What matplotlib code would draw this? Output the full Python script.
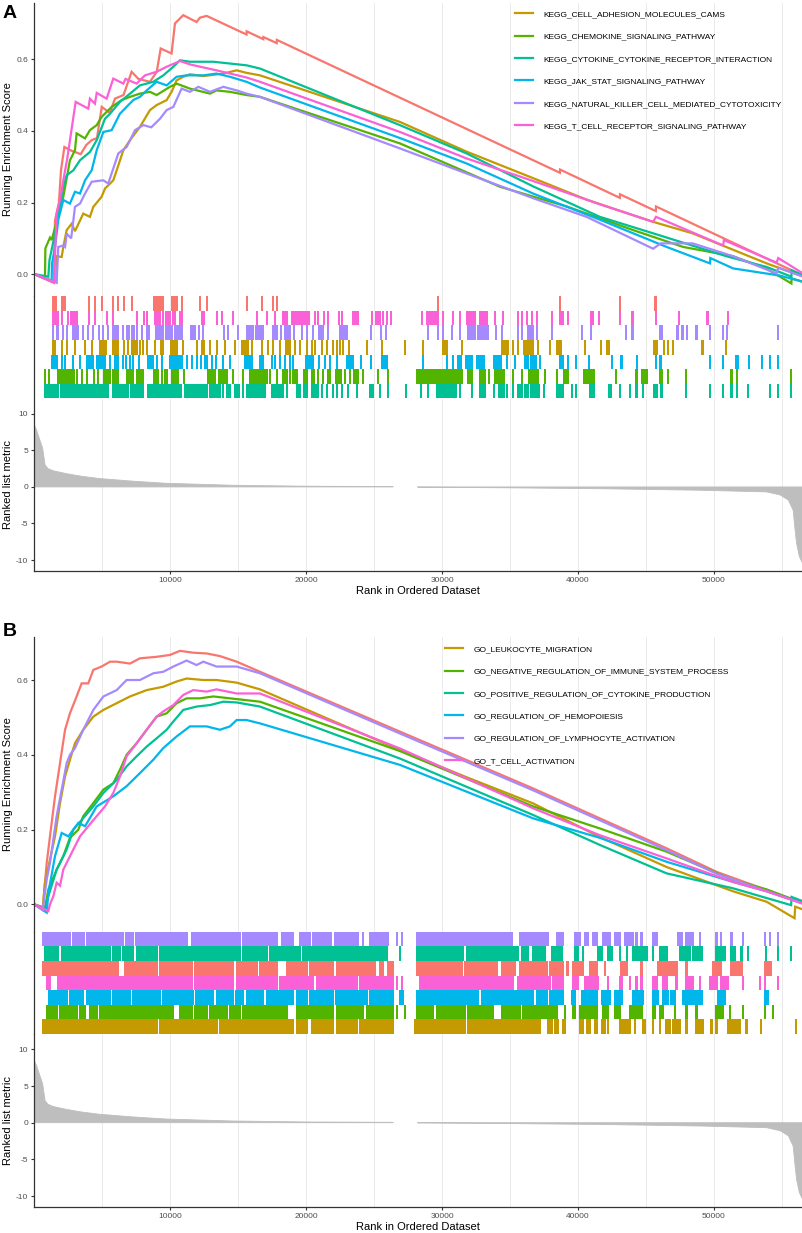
import numpy as np
import matplotlib
matplotlib.use("Agg")
import matplotlib.pyplot as plt

plt.rcParams["font.family"] = ["Liberation Sans", "DejaVu Sans"]
plt.rcParams["axes.unicode_minus"] = False

# ---------------- data ----------------
# ranked list metric, shared by both panels (nan = gap with no genes drawn)
metric_rank = [0, 150, 400, 600, 780, 1000, 1400, 2400, 3500, 4800, 7300, 9700,
               14600, 20000, 26400, 27300, 28200, 35000, 42000, 49000, 53900,
               54900, 55500, 55850, 55970, 56100, 56300, 56500]
metric_value = [8.4, 7.8, 6.4, 5.3, 3.0, 2.5, 2.2, 1.8, 1.45, 1.15, 0.78, 0.5,
                0.23, 0.1, 0.05, np.nan, -0.03, -0.12, -0.25, -0.45, -0.68,
                -1.1, -1.8, -3.2, -5.5, -7.7, -9.5, -10.3]

# panel A: running enrichment score, (rank, ES)
es_a_extra = [(0, 0.0), (1435, -0.024), (1509, 0.15), (1800, 0.20), (1950, 0.29), (2200, 0.355),
              (2700, 0.345), (3400, 0.335), (3800, 0.36), (4200, 0.374), (4600, 0.38), (4950, 0.467),
              (5550, 0.45), (5920, 0.49), (6550, 0.50), (7150, 0.565), (7650, 0.545), (8500, 0.537),
              (9000, 0.565), (9290, 0.63), (10090, 0.616), (10340, 0.70), (10950, 0.723),
              (11930, 0.704), (12180, 0.716), (12670, 0.721), (15610, 0.669), (15620, 0.678),
              (16840, 0.656), (16850, 0.662), (17830, 0.645), (17840, 0.654), (38680, 0.283),
              (38690, 0.292), (43090, 0.213), (43100, 0.223), (45740, 0.176), (45750, 0.189),
              (56450, -0.002)]
es_a_cams = [(0, 0.0), (1600, -0.022), (1640, 0.05), (2000, 0.048), (2120, 0.076), (2370, 0.123),
             (2740, 0.141), (2980, 0.12), (3590, 0.169), (4080, 0.16), (4330, 0.188), (4940, 0.216),
             (5190, 0.239), (5800, 0.262), (6050, 0.29), (6540, 0.346), (7030, 0.374), (7760, 0.411),
             (8500, 0.458), (8990, 0.472), (9730, 0.486), (10090, 0.509), (10460, 0.541),
             (10950, 0.551), (11440, 0.558), (12430, 0.553), (13900, 0.56), (14880, 0.569),
             (15610, 0.562), (16600, 0.555), (26900, 0.425), (31810, 0.342), (36710, 0.268),
             (40640, 0.208), (45540, 0.146), (48440, 0.114), (53900, 0.03), (56450, -0.005)]
es_a_chemokine = [(0, 0.0), (770, -0.012), (800, 0.072), (1140, 0.102), (1260, 0.095), (1510, 0.13),
                  (2120, 0.216), (2610, 0.318), (2980, 0.346), (3100, 0.393), (3720, 0.379),
                  (4080, 0.402), (4580, 0.416), (4940, 0.439), (5680, 0.467), (6420, 0.486),
                  (7030, 0.495), (7760, 0.504), (8500, 0.509), (8990, 0.50), (9970, 0.523),
                  (10460, 0.532), (11440, 0.518), (12920, 0.504), (13400, 0.513), (14390, 0.509),
                  (15610, 0.50), (16600, 0.495), (26900, 0.365), (34260, 0.244), (39170, 0.189),
                  (44070, 0.123), (47750, 0.076), (51430, 0.05), (53900, 0.015), (55720, -0.026),
                  (55730, -0.012), (56450, -0.02)]
es_a_cytokine = [(0, 0.0), (1020, -0.007), (1100, 0.039), (1510, 0.113), (2120, 0.244), (2370, 0.276),
                 (2860, 0.29), (3350, 0.318), (4080, 0.341), (4580, 0.374), (5190, 0.434),
                 (5560, 0.448), (6290, 0.481), (7030, 0.504), (7760, 0.527), (8750, 0.537),
                 (9480, 0.555), (10220, 0.579), (10710, 0.597), (11440, 0.593), (13160, 0.593),
                 (14390, 0.588), (15610, 0.583), (16600, 0.574), (26900, 0.416), (31810, 0.337),
                 (36710, 0.245), (41620, 0.16), (45540, 0.114), (50940, 0.05), (53900, 0.02),
                 (55720, -0.007), (55730, 0.011), (56450, -0.001)]
es_a_jak = [(0, 0.0), (1260, -0.02), (1290, 0.03), (1510, 0.076), (1750, 0.151), (2120, 0.207),
            (2610, 0.197), (2980, 0.23), (3350, 0.225), (3720, 0.262), (4210, 0.29), (4580, 0.346),
            (5070, 0.397), (5680, 0.402), (6290, 0.448), (6780, 0.467), (7270, 0.486), (7760, 0.495),
            (8260, 0.513), (8990, 0.537), (9730, 0.527), (10460, 0.551), (11200, 0.555),
            (12430, 0.555), (13400, 0.56), (14390, 0.551), (15610, 0.537), (16600, 0.521),
            (26900, 0.38), (31810, 0.309), (36710, 0.225), (41620, 0.152), (46530, 0.076),
            (49730, 0.03), (49750, 0.045), (51430, 0.016), (54870, -0.004), (56450, -0.02)]
es_a_nk = [(0, 0.0), (1630, -0.024), (1750, 0.076), (2120, 0.08), (2250, 0.076), (2370, 0.113),
           (2700, 0.1), (2980, 0.188), (3350, 0.197), (3720, 0.225), (4210, 0.258), (5070, 0.262),
           (5430, 0.253), (6170, 0.337), (6780, 0.355), (7400, 0.402), (8010, 0.416), (8600, 0.41),
           (9240, 0.434), (9730, 0.458), (10220, 0.467), (10830, 0.518), (11440, 0.509),
           (12060, 0.523), (12920, 0.509), (13900, 0.523), (14880, 0.513), (15610, 0.504),
           (16600, 0.495), (26900, 0.351), (31810, 0.281), (36710, 0.212), (40640, 0.16),
           (45540, 0.071), (46100, 0.086), (48440, 0.086), (51430, 0.05), (54630, 0.002),
           (54750, 0.018), (56450, -0.005)]
es_a_tcr = [(0, 0.0), (1435, -0.024), (1630, 0.169), (1880, 0.207), (2120, 0.262), (2400, 0.32),
            (3030, 0.481), (3960, 0.462), (4080, 0.49), (4450, 0.476), (4580, 0.506), (5310, 0.49),
            (5800, 0.546), (6540, 0.532), (6700, 0.545), (7520, 0.532), (8130, 0.555), (8990, 0.565),
            (9730, 0.579), (10710, 0.595), (11500, 0.585), (13400, 0.569), (15610, 0.549),
            (16600, 0.537), (26900, 0.397), (31810, 0.323), (36710, 0.26), (41620, 0.195),
            (45540, 0.146), (45750, 0.16), (50700, 0.08), (50750, 0.095), (54630, 0.032),
            (54750, 0.045), (56450, 0.005)]

# panel A: gene hits as (first rank, last rank) runs
hits_a_extra = [(1386, 1582), (1999, 2244), (4035, 4035), (4452, 4452), (4943, 4943), (5801, 5801),
                (6169, 6169), (6586, 6586), (7150, 7150), (8794, 8990), (9113, 9432), (10094, 10462),
                (10830, 10830), (12179, 12179), (12670, 12670), (15613, 15613), (16717, 16717),
                (17576, 17576), (17821, 17821), (29673, 29673), (38675, 38675), (43090, 43090),
                (45716, 45716)]
hits_a_tcr = [(1386, 1754), (1999, 1999), (2490, 2490), (2661, 2858), (2980, 3152), (4035, 4035),
              (4452, 4452), (5311, 5311), (5801, 5801), (7518, 7518), (8058, 8058), (8303, 8303),
              (8867, 9235), (9481, 9481), (9677, 9849), (9972, 9972), (10217, 10339), (10707, 10707),
              (10830, 10830), (12302, 12302), (12474, 12474), (13406, 13406), (13773, 13773),
              (14632, 14632), (16398, 16398), (17085, 17085), (17698, 17698), (18311, 18557),
              (18925, 19293), (19415, 19661), (19832, 20200), (20642, 20642), (20887, 20887),
              (21304, 21304), (21623, 21623), (22433, 22433), (22604, 22604), (23463, 23831),
              (24812, 24812), (25131, 25425), (25671, 25671), (25916, 25916), (26210, 26210),
              (28495, 28495), (28912, 29231), (29354, 29722), (30090, 30090), (30777, 30777),
              (31316, 31316), (31807, 32420), (32788, 33328), (33892, 33892), (34505, 34505),
              (35609, 35609), (35854, 35854), (36222, 36222), (36590, 36590), (36958, 36958),
              (38062, 38062), (38675, 38920), (39289, 39289), (40932, 41128), (41545, 41545),
              (43090, 43090), (44023, 44023), (45740, 45740), (47458, 47458), (49543, 49543),
              (51064, 51064)]
hits_a_nk = [(1386, 1386), (1631, 1631), (1754, 1754), (2122, 2122), (2367, 2367), (2809, 3226),
             (3544, 3544), (3962, 3962), (4280, 4280), (4771, 4771), (5065, 5065), (5433, 5433),
             (5752, 6169), (6488, 6488), (6831, 6831), (6979, 6979), (7150, 7150), (7322, 7322),
             (7518, 7518), (7886, 7886), (8254, 8254), (8450, 8450), (8941, 9481), (9677, 10094),
             (10339, 10830), (11492, 11811), (12130, 12130), (12424, 12424), (13945, 13945),
             (14264, 14264), (15000, 15000), (15662, 16104), (16300, 16840), (17527, 17821),
             (18115, 18115), (18434, 18802), (19121, 19121), (19661, 19661), (20078, 20078),
             (20519, 20519), (20961, 21206), (21623, 21623), (22482, 22850), (22972, 22972),
             (24738, 24738), (25474, 25474), (25843, 25843), (28986, 28986), (29673, 29673),
             (30090, 30090), (30752, 30752), (31316, 31316), (31930, 32420), (32665, 33401),
             (33966, 33966), (34383, 34383), (35609, 35609), (35854, 35854), (36345, 36664),
             (36958, 36958), (38062, 38062), (40270, 40270), (40932, 40932), (43532, 43532),
             (44023, 44023), (46034, 46157), (47334, 47334), (47703, 47703), (48046, 48046),
             (48733, 48733), (49714, 49714), (50695, 50695), (51014, 51014), (54743, 54743)]
hits_a_cams = [(1386, 1508), (1999, 1999), (2367, 2367), (2980, 2980), (3716, 3716), (4207, 4207),
               (4820, 4820), (4943, 5262), (5801, 6169), (6586, 6586), (6905, 6905), (7150, 7567),
               (7764, 7764), (8009, 8009), (8303, 8303), (8867, 8867), (9285, 9285), (9481, 9481),
               (10020, 10462), (10903, 10903), (11934, 11934), (12302, 12302), (12498, 12498),
               (12915, 12915), (13406, 13406), (14019, 14019), (14755, 14755), (15245, 15613),
               (15736, 15736), (15981, 15981), (16717, 16717), (17208, 17208), (17576, 17576),
               (18066, 18066), (18508, 18802), (19170, 19170), (19538, 19538), (20029, 20029),
               (20397, 20397), (20642, 20642), (21132, 21132), (21500, 21500), (21991, 21991),
               (22236, 22236), (22482, 22482), (22678, 22678), (23168, 23168), (24444, 24444),
               (25548, 25548), (27269, 27269), (28618, 28618), (30041, 30335), (31439, 31439),
               (34383, 34873), (35241, 35241), (35609, 35609), (36051, 36713), (37081, 37081),
               (37940, 37940), (38430, 38724), (40515, 40515), (41692, 41692), (42110, 42306),
               (45593, 45838), (46329, 46329), (46648, 46648), (47015, 47015), (49174, 49174),
               (50940, 50940)]
hits_a_jak = [(1263, 1631), (1999, 1999), (2244, 2244), (2858, 2858), (3348, 3348), (3888, 4329),
              (4575, 5188), (5556, 5556), (5924, 6169), (6488, 6488), (6733, 6733), (7028, 7028),
              (7273, 7273), (7715, 7715), (8377, 8745), (8990, 8990), (9358, 9358), (9972, 10339),
              (10511, 10830), (11247, 11247), (11566, 11566), (11934, 11934), (12228, 12228),
              (12547, 12547), (12719, 12719), (13038, 13038), (13356, 13356), (13847, 13847),
              (14387, 14387), (15491, 15981), (16594, 16840), (17453, 17453), (17698, 17698),
              (18066, 18066), (18434, 18434), (18802, 18802), (19047, 19047), (19980, 20519),
              (20961, 20961), (21378, 21378), (21746, 21746), (22236, 22236), (22972, 23463),
              (24002, 24002), (24738, 24738), (25548, 25916), (28618, 28618), (30384, 30384),
              (30777, 30777), (31194, 31365), (31758, 32175), (32592, 33107), (33818, 34334),
              (34751, 34751), (35364, 35364), (36100, 36345), (36517, 36909), (37204, 37204),
              (38675, 38920), (39289, 39289), (39828, 39828), (40809, 40809), (42478, 42478),
              (43213, 43213), (44366, 44366), (45740, 45740), (46083, 46083), (49714, 49714),
              (50695, 50695), (51677, 51800), (52585, 52585), (53566, 53566), (54130, 54130),
              (54743, 54743)]
hits_a_chemokine = [(772, 772), (1091, 1091), (1754, 2735), (2907, 2907), (3152, 3152), (3471, 3471),
                    (3839, 3839), (4403, 4403), (4697, 4697), (5114, 5556), (5801, 6169), (6782, 7273),
                    (7518, 7960), (8794, 9113), (9358, 9358), (9603, 9603), (9775, 9775),
                    (10143, 10585), (11026, 11026), (12792, 13283), (13602, 14141), (14632, 14632),
                    (15319, 15319), (15858, 16349), (16545, 17085), (17331, 17331), (17870, 17870),
                    (18262, 18606), (18802, 18802), (19047, 19047), (19170, 19170), (19342, 19342),
                    (19857, 20078), (20397, 20568), (20887, 20887), (21255, 21255), (21623, 21623),
                    (21746, 21746), (22187, 22531), (22850, 22850), (23217, 23217), (23512, 23831),
                    (24199, 24199), (25303, 25303), (26039, 26039), (28128, 28618), (28741, 28986),
                    (29100, 29354), (29470, 29722), (29850, 30213), (30335, 30752), (30850, 31439),
                    (31930, 32175), (32788, 33156), (33475, 33475), (33892, 34554), (35241, 35241),
                    (35854, 35854), (36419, 37081), (37572, 37572), (38430, 38430), (38970, 39289),
                    (40466, 41177), (42797, 42797), (44317, 44317), (44759, 45053), (46034, 46157),
                    (46648, 46648), (47948, 47948), (51309, 51309), (51726, 51726), (55724, 55724)]
hits_a_cytokine = [(772, 1754), (1925, 3103), (3226, 3594), (3716, 5433), (5752, 6905), (7077, 7960),
                   (8377, 9235), (9358, 10756), (11075, 12179), (12252, 12670), (12915, 13651),
                   (13847, 13847), (14141, 14387), (14755, 15074), (15368, 15368), (15662, 16840),
                   (16963, 16963), (17453, 18311), (18557, 18557), (19293, 19538), (19832, 20078),
                   (20397, 20887), (21132, 21132), (21500, 21500), (21991, 21991), (22236, 22236),
                   (22604, 22604), (23095, 23095), (23708, 23708), (24689, 24886), (25425, 25425),
                   (26039, 26039), (27343, 27343), (28422, 28422), (28986, 28986), (29648, 30213),
                   (30335, 31022), (31316, 31316), (32175, 32175), (32788, 33156), (33818, 33818),
                   (34187, 34554), (34751, 34751), (35241, 35241), (35609, 35854), (36100, 36345),
                   (36517, 37155), (37498, 37498), (38430, 38920), (39534, 39534), (39853, 39853),
                   (40883, 41177), (42306, 42404), (43090, 43090), (43827, 43827), (44317, 44317),
                   (44808, 44808), (45593, 45790), (46157, 46157), (47948, 47948), (49714, 49714),
                   (50695, 50695), (51309, 51309), (51726, 51726), (52535, 52535), (54130, 54130),
                   (54743, 54743), (55724, 55724)]

names_a = [None, "KEGG_CELL_ADHESION_MOLECULES_CAMS", "KEGG_CHEMOKINE_SIGNALING_PATHWAY",
           "KEGG_CYTOKINE_CYTOKINE_RECEPTOR_INTERACTION", "KEGG_JAK_STAT_SIGNALING_PATHWAY",
           "KEGG_NATURAL_KILLER_CELL_MEDIATED_CYTOTOXICITY", "KEGG_T_CELL_RECEPTOR_SIGNALING_PATHWAY"]

# panel B: running enrichment score, (rank, ES)
es_b_extra = [(0, 0.0), (600, -0.013), (900, 0.111), (1140, 0.182), (1510, 0.289), (1880, 0.378),
              (2250, 0.467), (2610, 0.511), (3100, 0.556), (3470, 0.591), (3960, 0.591), (4330, 0.627),
              (4940, 0.636), (5560, 0.649), (6050, 0.649), (7030, 0.644), (7760, 0.658), (8990, 0.662),
              (9970, 0.667), (10710, 0.678), (11690, 0.673), (12670, 0.671), (13650, 0.664),
              (14880, 0.649), (16600, 0.622), (26900, 0.462), (36710, 0.31), (46530, 0.15),
              (50210, 0.087), (56450, 0.005)]
es_b_leuko = [(0, 0.0), (600, -0.015), (770, 0.058), (1140, 0.12), (1510, 0.182), (1880, 0.271),
              (2250, 0.342), (2610, 0.387), (2980, 0.431), (3590, 0.467), (4330, 0.502), (5070, 0.52),
              (6050, 0.538), (7030, 0.556), (8260, 0.573), (9480, 0.582), (10460, 0.596),
              (11200, 0.604), (12430, 0.60), (13400, 0.60), (14880, 0.593), (16600, 0.575),
              (26900, 0.413), (31810, 0.34), (36710, 0.27), (41620, 0.18), (46530, 0.10),
              (51430, 0.035), (53900, 0.007), (55950, -0.037), (56000, -0.006), (56450, -0.012)]
es_b_negimm = [(0, 0.0), (770, -0.009), (1020, 0.04), (1630, 0.093), (2120, 0.129), (2610, 0.178),
               (3230, 0.20), (3590, 0.236), (4330, 0.271), (5070, 0.307), (5800, 0.324), (6290, 0.36),
               (6780, 0.40), (7520, 0.431), (8260, 0.467), (8990, 0.502), (9730, 0.511),
               (10460, 0.538), (11200, 0.551), (12180, 0.551), (13160, 0.556), (14390, 0.551),
               (16600, 0.542), (26900, 0.41), (36710, 0.262), (41620, 0.203), (46530, 0.141),
               (51430, 0.065), (53900, 0.04), (56450, 0.005)]
es_b_cytprod = [(0, 0.0), (770, -0.013), (1020, 0.022), (1630, 0.093), (2370, 0.147), (2860, 0.20),
                (4330, 0.262), (5070, 0.298), (6050, 0.333), (6780, 0.369), (7520, 0.396),
                (8260, 0.422), (8990, 0.444), (9730, 0.467), (10220, 0.489), (10950, 0.52),
                (11930, 0.529), (12920, 0.533), (13900, 0.542), (14880, 0.54), (16600, 0.529),
                (26900, 0.39), (36710, 0.239), (41620, 0.159), (46530, 0.083), (51430, 0.043),
                (55700, -0.002), (55730, 0.02), (56450, 0.01)]
es_b_hemo = [(0, 0.0), (900, -0.022), (1020, 0.031), (1510, 0.129), (2000, 0.191), (2490, 0.182),
             (3230, 0.218), (3720, 0.209), (4580, 0.262), (5800, 0.289), (6780, 0.316), (7760, 0.351),
             (8750, 0.387), (9480, 0.418), (10460, 0.449), (11440, 0.476), (12670, 0.476),
             (13650, 0.467), (14390, 0.476), (14880, 0.493), (15610, 0.493), (16600, 0.484),
             (26900, 0.373), (36710, 0.23), (41620, 0.178), (46530, 0.114), (51430, 0.06),
             (53900, 0.035), (56450, 0.005)]
es_b_lymph = [(0, 0.0), (600, -0.015), (900, 0.067), (1140, 0.111), (1630, 0.236), (2000, 0.307),
              (2370, 0.378), (2610, 0.40), (2980, 0.418), (3590, 0.467), (4330, 0.52), (5070, 0.556),
              (6050, 0.573), (6780, 0.60), (7760, 0.60), (8750, 0.618), (9480, 0.622), (10220, 0.636),
              (11200, 0.652), (11930, 0.64), (12430, 0.649), (13400, 0.636), (14880, 0.636),
              (16600, 0.618), (26900, 0.457), (36710, 0.305), (46530, 0.145), (50210, 0.082),
              (56450, 0.003)]
es_b_tcell = [(0, 0.0), (1020, -0.018), (1140, 0.0), (1390, 0.022), (1630, 0.058), (1880, 0.05),
              (2120, 0.093), (2490, 0.12), (2860, 0.147), (3350, 0.182), (3960, 0.209), (4580, 0.236),
              (5190, 0.262), (5800, 0.298), (6290, 0.342), (6780, 0.396), (7520, 0.431), (8260, 0.467),
              (8990, 0.502), (9480, 0.516), (10220, 0.533), (10950, 0.56), (11690, 0.573),
              (12670, 0.569), (13400, 0.575), (14880, 0.564), (16600, 0.564), (26900, 0.417),
              (36710, 0.257), (41620, 0.185), (46530, 0.123), (51430, 0.06), (53900, 0.035),
              (56450, 0.004)]

# panel B: gene hits as (first rank, last rank) runs
hits_b_lymph = [(601, 2612), (2809, 3643), (3888, 5262), (5433, 6537), (6733, 7273), (7469, 7764),
                (7886, 8254), (8377, 11198), (11566, 11566), (11737, 11934), (12130, 15122),
                (15368, 16104), (16226, 17821), (18189, 19047), (19538, 20274), (20519, 21132),
                (21304, 21795), (22114, 23831), (24199, 24199), (24689, 25303), (25425, 26039),
                (26652, 26652), (27024, 27024), (28128, 28422), (28618, 30213), (30335, 31807),
                (31930, 33524), (33647, 35119), (35732, 37817), (38430, 38920), (39779, 40147),
                (40515, 40760), (41128, 41374), (41864, 42355), (42723, 43090), (43459, 44072),
                (44317, 44317), (44685, 44685), (45544, 45789), (47384, 47629), (47997, 48487),
                (48978, 48978), (50205, 50205), (50572, 50572), (51309, 51309), (52167, 52167),
                (53762, 53762), (54130, 54130), (54743, 54743)]
hits_b_cytprod = [(772, 1140), (1263, 1754), (1999, 3716), (3888, 5556), (5801, 6292), (6537, 7273),
                  (7518, 8990), (9235, 11566), (11737, 15122), (15368, 17085), (17331, 19538),
                  (19783, 23831), (23953, 25916), (26901, 26901), (28128, 30826), (30948, 31562),
                  (31807, 33279), (33401, 34260), (34383, 35609), (35854, 36345), (36713, 37572),
                  (38062, 38798), (39779, 40024), (40392, 40392), (41496, 41742), (42232, 42478),
                  (43090, 43090), (43582, 43582), (44072, 45053), (45544, 45544), (46034, 46525),
                  (47506, 48242), (48487, 49101), (50205, 50818), (51309, 51554), (52045, 52045),
                  (52535, 52535), (53884, 53884), (54743, 54743), (55724, 55724)]
hits_b_extra = [(601, 3716), (3888, 5311), (5433, 6169), (6660, 6905), (7028, 8990), (9235, 11566),
                (11811, 12670), (12866, 14632), (14877, 16349), (16594, 17821), (18557, 20029),
                (20274, 21991), (22236, 22972), (23095, 25058), (25425, 25671), (26039, 26406),
                (28128, 31439), (31684, 34015), (34383, 35364), (35732, 37695), (37940, 38920),
                (39166, 39289), (39656, 40392), (40883, 41374), (41987, 41987), (43213, 43582),
                (44685, 44685), (45912, 47261), (47997, 47997), (49959, 50572), (51309, 52045),
                (53762, 54252)]
hits_b_tcell = [(895, 1140), (1754, 3839), (3962, 5556), (5679, 6782), (6905, 7518), (7641, 11566),
                (11811, 14632), (14877, 17821), (18066, 20519), (20764, 21991), (22114, 23708),
                (23953, 24689), (24812, 26039), (26162, 26406), (26652, 26652), (27024, 27024),
                (28373, 32665), (32788, 35241), (35609, 37940), (38185, 38920), (39656, 40024),
                (40515, 41496), (42232, 42232), (43090, 43213), (43827, 43827), (44317, 44317),
                (44685, 44685), (45544, 45789), (46280, 46525), (47261, 47261), (47997, 48487),
                (48978, 48978), (49714, 50205), (50572, 51064), (52167, 52167), (53394, 53394),
                (53762, 53762), (54743, 54743)]
hits_b_hemo = [(1091, 2367), (2612, 3103), (3226, 3544), (3839, 4575), (4771, 5556), (5801, 7028),
               (7224, 8009), (8131, 9235), (9481, 11688), (11884, 13160), (13406, 14632),
               (14828, 15368), (15662, 16840), (17085, 17821), (18017, 19047), (19293, 20029),
               (20274, 21991), (22187, 24444), (24689, 26406), (26901, 27146), (28128, 32665),
               (32911, 34260), (34383, 36713), (36958, 37695), (37940, 38920), (39534, 39779),
               (40270, 41374), (41742, 42355), (42723, 43213), (44072, 44808), (45544, 45912),
               (46280, 46648), (46893, 47138), (47752, 49101), (50327, 50818), (53762, 54007)]
hits_b_negimm = [(895, 1140), (1263, 1631), (1876, 2367), (2490, 2735), (2858, 3152), (3348, 3716),
                 (4084, 4575), (4820, 6782), (6905, 8990), (9113, 10217), (10707, 11566),
                 (11811, 12670), (12915, 14141), (14387, 15122), (15368, 16226), (16349, 18557),
                 (19293, 21991), (22236, 24199), (24444, 26406), (26652, 26652), (27269, 27269),
                 (28128, 29354), (29599, 31684), (31930, 33769), (34383, 35732), (35977, 38062),
                 (38185, 38430), (39043, 39043), (39656, 39779), (40147, 41374), (41864, 42232),
                 (42723, 43090), (43827, 44685), (45544, 45667), (46034, 46280), (47138, 47138),
                 (47997, 47997), (48733, 48733), (50205, 50695), (51186, 51186), (52167, 52167),
                 (53762, 53762), (54375, 54375)]
hits_b_leuko = [(601, 3226), (3348, 3716), (3888, 8990), (9235, 11198), (11320, 13406),
                (13651, 15613), (15736, 16717), (16840, 17821), (17943, 19047), (19293, 20029),
                (20397, 21991), (22236, 23708), (23953, 26406), (28005, 31684), (31930, 35732),
                (35854, 37204), (37817, 38062), (38307, 38553), (38920, 39043), (40147, 40392),
                (40638, 40883), (41251, 41374), (41742, 41987), (42232, 42232), (43090, 43827),
                (44194, 44194), (44808, 44931), (45544, 45544), (46034, 46034), (46525, 46770),
                (47015, 47506), (47997, 47997), (48733, 49224), (49837, 49837), (50205, 50205),
                (51064, 51922), (52413, 52413), (53517, 53517), (56092, 56092)]

names_b = [None, "GO_LEUKOCYTE_MIGRATION", "GO_NEGATIVE_REGULATION_OF_IMMUNE_SYSTEM_PROCESS",
           "GO_POSITIVE_REGULATION_OF_CYTOKINE_PRODUCTION", "GO_REGULATION_OF_HEMOPOIESIS",
           "GO_REGULATION_OF_LYMPHOCYTE_ACTIVATION", "GO_T_CELL_ACTIVATION"]

# ---------------- styling ----------------
hue = ["#F8766D", "#C49A00", "#53B400", "#00C094", "#00B6EB", "#A58AFF", "#FB61D7"]
XMAX = 56500
TICK_W = 150
AXIS_COL = "#333333"
TEXT_COL = "#4D4D4D"
GRID_COL = "#EBEBEB"

W, H = 803, 1233
fig = plt.figure(figsize=(W / 100, H / 100), dpi=100)

LEFT = 34.5 / W
WIDTH = 767.5 / W


def rect(top_px, bottom_px):
    return [LEFT, 1 - bottom_px / H, WIDTH, (bottom_px - top_px) / H]


def base_axes(ax):
    ax.set_xlim(0, XMAX)
    ax.set_xticks(np.arange(10000, 60000, 10000))
    ax.set_xticks(np.arange(5000, 60000, 10000), minor=True)
    ax.grid(axis="x", which="both", color=GRID_COL, lw=0.7)
    ax.set_axisbelow(True)
    for s in ("top", "right", "bottom"):
        ax.spines[s].set_visible(False)
    ax.spines["left"].set_color(AXIS_COL)
    ax.spines["left"].set_linewidth(0.9)
    ax.tick_params(axis="x", which="both", bottom=False, labelbottom=False)
    ax.tick_params(axis="y", length=2.5, width=0.8, color=AXIS_COL,
                   labelcolor=TEXT_COL, labelsize=6, pad=2)


def draw_panel(tops, curves, hits, names, rug_order, legend_xy, letter, letter_y):
    es_top, es_bot, rug_bot, met_bot = tops
    ax_es = fig.add_axes(rect(es_top, es_bot))
    ax_rug = fig.add_axes(rect(es_bot, rug_bot))
    ax_met = fig.add_axes(rect(rug_bot, met_bot))

    # running enrichment score
    base_axes(ax_es)
    handles = []
    for i, (pts, name) in enumerate(zip(curves, names)):
        xs = [p[0] for p in pts]
        ys = [p[1] for p in pts]
        ln, = ax_es.plot(xs, ys, color=hue[i], lw=1.6, solid_joinstyle="miter",
                         label=name if name else "_nolegend_")
        if name:
            handles.append(ln)
    ax_es.set_yticks([0.0, 0.2, 0.4, 0.6])
    ax_es.set_yticklabels(["0.0", "0.2", "0.4", "0.6"])
    ax_es.set_ylabel("Running Enrichment Score", fontsize=8)
    ax_es.yaxis.set_label_coords(-0.028, 0.5)
    ax_es.legend(handles=handles, loc="upper left", bbox_to_anchor=legend_xy,
                 frameon=False, fontsize=6, handlelength=2.2, handletextpad=1.2,
                 labelspacing=1.75, borderpad=0, borderaxespad=0)

    # hit rug
    base_axes(ax_rug)
    ax_rug.set_ylim(0, len(rug_order))
    ax_rug.set_yticks([])
    for row, idx in enumerate(rug_order):
        y0 = len(rug_order) - 1 - row
        bars = [(s - TICK_W / 2, e - s + TICK_W) for s, e in hits[idx]]
        ax_rug.broken_barh(bars, (y0, 1), facecolors=hue[idx], edgecolor="none")

    # ranked list metric
    base_axes(ax_met)
    ax_met.fill_between(metric_rank, metric_value, 0, color="#BEBEBE", lw=0.6)
    ax_met.set_ylim(-11.5, 12.1)
    ax_met.set_yticks([-10, -5, 0, 5, 10])
    ax_met.spines["bottom"].set_visible(True)
    ax_met.spines["bottom"].set_color(AXIS_COL)
    ax_met.spines["bottom"].set_linewidth(0.9)
    ax_met.tick_params(axis="x", which="major", bottom=True, labelbottom=True, length=2.5,
                       width=0.8, color=AXIS_COL, labelcolor=TEXT_COL, labelsize=6, pad=1.5)
    ax_met.set_xticklabels([str(v) for v in range(10000, 60000, 10000)])
    ax_met.set_xlabel("Rank in Ordered Dataset", fontsize=8, labelpad=2)
    ax_met.set_ylabel("Ranked list metric", fontsize=8)
    ax_met.yaxis.set_label_coords(-0.028, 0.5)

    fig.text(3 / W, 1 - letter_y / H, letter, fontsize=14, fontweight="bold",
             ha="left", va="baseline")
    return ax_es


curves_a = [es_a_extra, es_a_cams, es_a_chemokine, es_a_cytokine, es_a_jak, es_a_nk, es_a_tcr]
hits_a = [hits_a_extra, hits_a_cams, hits_a_chemokine, hits_a_cytokine, hits_a_jak, hits_a_nk, hits_a_tcr]
curves_b = [es_b_extra, es_b_leuko, es_b_negimm, es_b_cytprod, es_b_hemo, es_b_lymph, es_b_tcell]
hits_b = [hits_b_extra, hits_b_leuko, hits_b_negimm, hits_b_cytprod, hits_b_hemo, hits_b_lymph, hits_b_tcell]

ax_a = draw_panel((3, 296, 398.5, 571), curves_a, hits_a, names_a,
                  [0, 6, 5, 1, 4, 2, 3], (0.626, 0.975), "A", 18.5)
ax_a.set_ylim(-0.061, 0.757)
ax_b = draw_panel((637, 931.7, 1034, 1207), curves_b, hits_b, names_b,
                  [5, 3, 0, 6, 4, 2, 1], (0.535, 0.972), "B", 636)
ax_b.set_ylim(-0.073, 0.715)

fig.savefig("out.png", dpi=100)
